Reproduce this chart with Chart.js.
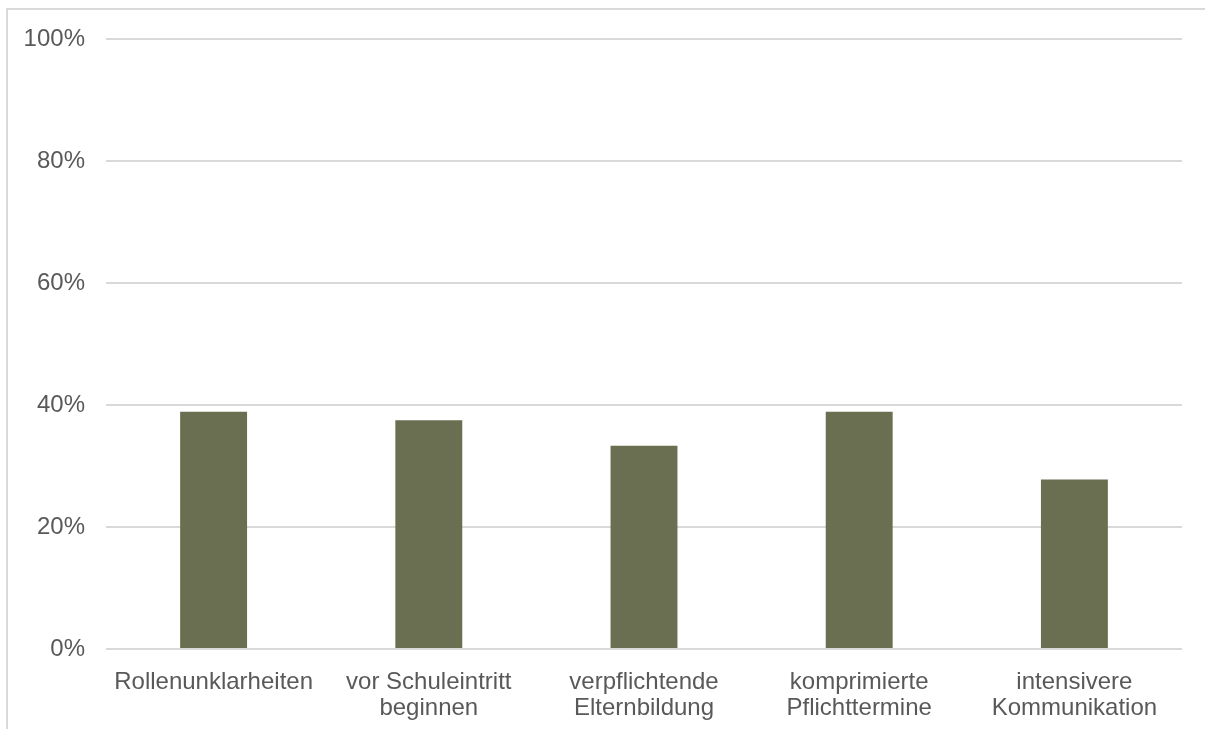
<!DOCTYPE html>
<html>
<head>
<meta charset="utf-8">
<script src="https://cdn.jsdelivr.net/npm/chart.js@4/dist/chart.umd.min.js"></script>
<style>
  html, body { margin: 0; padding: 0; background: #fff; overflow: hidden; }
  #frame {
    position: absolute; left: 6px; top: 8px;
    width: 1300px; height: 800px;
    border: 2px solid #d9d9d9;
  }
  #myChart { position: absolute; left: 0; top: 0; }
</style>
</head>
<body>
<div id="frame"></div>
<canvas id="myChart" width="1205" height="729"></canvas>
<script>
'use strict';
// categories on the x axis (two-line labels where the text wraps)
var labels = [
    'Rollenunklarheiten',
    ['vor Schuleintritt', 'beginnen'],
    ['verpflichtende', 'Elternbildung'],
    ['komprimierte', 'Pflichttermine'],
    ['intensivere', 'Kommunikation']
];
// share of answers in percent
var values = [38.9, 37.5, 33.3, 38.9, 27.8];
// y axis ticks
var yTicks = [0, 20, 40, 60, 80, 100];

var ctx = document.getElementById('myChart').getContext('2d');
var chart = new Chart(ctx, {
    type: 'bar',
    data: {
        labels: labels,
        datasets: [{
            data: values,
            backgroundColor: '#6a6f52',
            borderWidth: 0,
            barPercentage: 0.311,
            categoryPercentage: 1
        }]
    },
    options: {
        responsive: false,
        animation: false,
        layout: { padding: { left: 0, right: 23, top: 39, bottom: 0 } },
        plugins: {
            legend: { display: false },
            tooltip: { enabled: false }
        },
        scales: {
            x: {
                grid: { display: false, drawTicks: false },
                border: { display: false },
                ticks: {
                    color: '#595959',
                    font: { family: '"Liberation Sans", Arial, sans-serif', size: 24, lineHeight: 1.083 },
                    padding: 20,
                    maxRotation: 0,
                    autoSkip: false
                },
                afterFit: function (scale) { scale.height = 80; }
            },
            y: {
                min: 0,
                max: 100,
                grid: { color: '#d9d9d9', lineWidth: 2, drawTicks: false },
                border: { display: false },
                afterBuildTicks: function (scale) {
                    scale.ticks = yTicks.map(function (v) { return { value: v }; });
                },
                ticks: {
                    color: '#595959',
                    font: { family: '"Liberation Sans", Arial, sans-serif', size: 24 },
                    padding: 21,
                    callback: function (v) { return v + '%'; }
                },
                afterFit: function (scale) { scale.width = 106; }
            }
        }
    }
});
</script>
</body>
</html>
